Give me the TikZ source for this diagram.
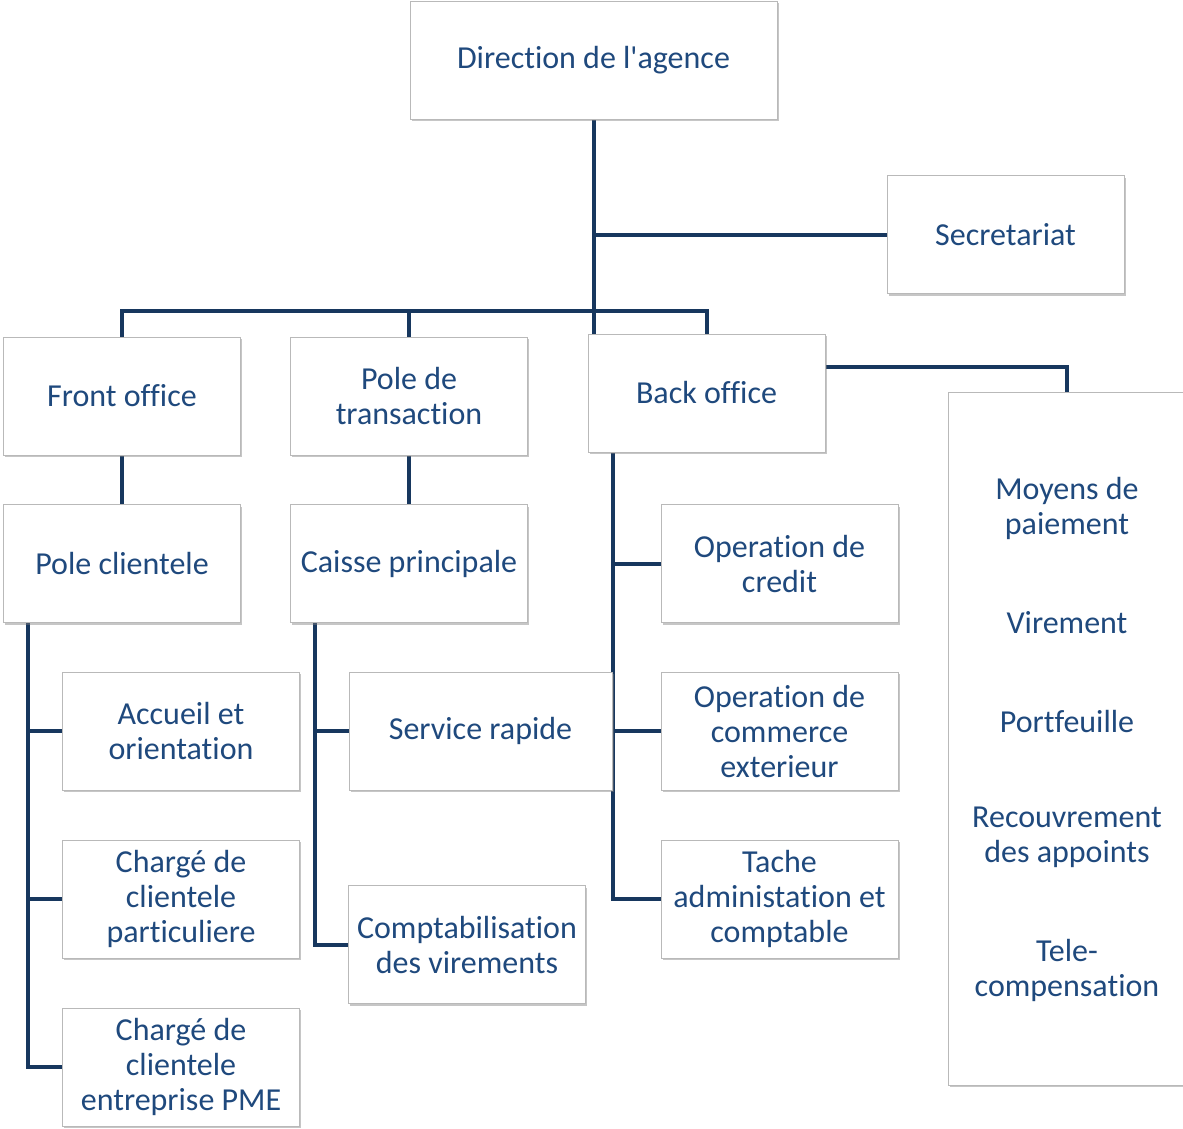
\documentclass[tikz,border=0pt]{standalone}
\usepackage{fontspec}
\setmainfont{Carlito}[Ligatures={NoCommon}]
\usetikzlibrary{shadows,backgrounds}
\definecolor{navy}{HTML}{17375E}
\definecolor{txtblue}{HTML}{1F497D}

\begin{document}
\begin{tikzpicture}[x=0.75pt,y=-0.75pt,
  box/.style={draw=gray!55, fill=white, text=txtblue, align=center,
    minimum width=177.75pt, minimum height=88.5pt, inner sep=2pt,
    font=\fontsize{24}{26.25}\selectfont,
    drop shadow={shadow xshift=1.2pt, shadow yshift=-1.8pt, opacity=0.45}},
  entry/.style={text=txtblue, align=center, font=\fontsize{24}{26.25}\selectfont},
  link/.style={draw=navy, line width=3pt}]

\useasboundingbox (0,0) rectangle (1183,1129);

\node[box, minimum width=275.25pt] (dir) at (593.5,60) {Direction de l\textquotesingle agence};
\node[box] (sec) at (1005.5,234.5) {Secretariat};

\node[box] (fo) at (122,396) {Front office};
\node[box] (pt) at (409,396) {Pole de\\transaction};
\node[box] (bo) at (706.5,393) {Back office};

\node[box] (pc) at (122,563.5) {Pole clientele};
\node[box] (cp) at (409,563.5) {Caisse principale};

\node[box] (acc) at (181,731) {Accueil et\\orientation};
\node[box] (ccp) at (181,899) {Chargé de\\clientele\\particuliere};
\node[box] (pme) at (181,1067) {Chargé de\\clientele\\entreprise PME};

\node[box, minimum width=197.25pt] (sr) at (480.5,731) {Service rapide};
\node[box] (cv) at (467,944.5) {Comptabilisation\\des virements};

\node[box] (oc) at (779.5,563.5) {Operation de\\credit};
\node[box] (oce) at (779.5,731) {Operation de\\commerce\\exterieur};
\node[box] (tac) at (779.5,899) {Tache\\administation et\\comptable};

% moyens de paiement
\node[box, minimum width=178.5pt, minimum height=519.75pt] (mp) at (1067,738.5) {};
\node[entry] (mp1) at (1067,508) {Moyens de\\paiement};
\node[entry] (mp2) at (1067,623) {Virement};
\node[entry] (mp3) at (1067,721) {Portfeuille};
\node[entry] (mp4) at (1067,837) {Recouvrement\\des appoints};
\node[entry] (mp5) at (1067,970) {Tele-\\compensation};

\coordinate (bar) at (593.5,311);
\coordinate (pcTrunk) at (28,622);
\coordinate (cpTrunk) at (315,622);
\coordinate (boTrunk) at (613,452);

\begin{scope}[on background layer]
\draw[link] (dir.south) -- (dir.south |- bo.north);
\draw[link] (dir.south |- sec.west) -- (sec.west);
\draw[link] (fo.north) |- (bar) -| (bo.north);
\draw[link] (pt.north) -- (pt.north |- bar);
\draw[link] ([yshift=19.5pt]bo.east) -| (mp.north);

\draw[link] (fo.south) -- (pc.north);
\draw[link] (pt.south) -- (cp.north);

\draw[link] (pcTrunk) |- (pme.west);
\draw[link] (pcTrunk |- acc.west) -- (acc.west);
\draw[link] (pcTrunk |- ccp.west) -- (ccp.west);

\draw[link] (cpTrunk) |- (cv.west);
\draw[link] (cpTrunk |- sr.west) -- (sr.west);

\draw[link] (boTrunk) |- (tac.west);
\draw[link] (boTrunk |- oc.west) -- (oc.west);
\draw[link] (boTrunk |- oce.west) -- (oce.west);
\end{scope}

\end{tikzpicture}
\end{document}
